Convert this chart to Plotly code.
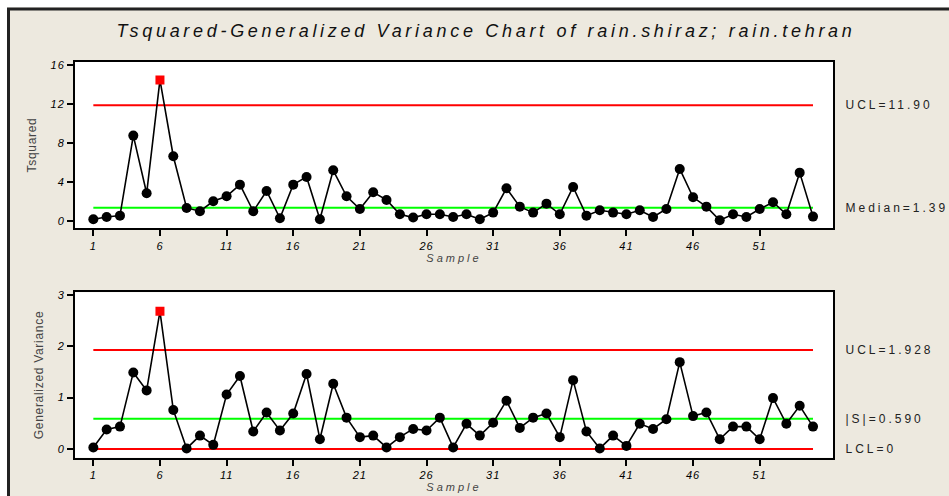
"""Tsquared / generalized variance control chart for rain.shiraz; rain.tehran."""

import plotly.graph_objects as go

W, H = 949, 496

samples = list(range(1, 56))
tsquared = [
    0.2, 0.44, 0.58, 8.79, 2.87, 14.5, 6.67, 1.37, 1.03, 2.05,
    2.56, 3.76, 1.03, 3.11, 0.31, 3.76, 4.55, 0.2, 5.23, 2.56,
    1.26, 2.97, 2.19, 0.72, 0.38, 0.72, 0.72, 0.44, 0.72, 0.2,
    0.89, 3.38, 1.5, 0.89, 1.81, 0.72, 3.52, 0.58, 1.13, 0.89,
    0.72, 1.13, 0.44, 1.26, 5.37, 2.46, 1.5, 0.1, 0.72, 0.44,
    1.26, 1.95, 0.72, 4.99, 0.48,
]
gen_variance = [
    0.03, 0.38, 0.435, 1.49, 1.14, 2.68, 0.76, 0.01, 0.26, 0.08,
    1.06, 1.42, 0.34, 0.71, 0.36, 0.69, 1.46, 0.19, 1.27, 0.61,
    0.23, 0.26, 0.03, 0.23, 0.39, 0.36, 0.61, 0.03, 0.49, 0.26,
    0.51, 0.94, 0.41, 0.61, 0.69, 0.23, 1.34, 0.34, 0.01, 0.26,
    0.06, 0.49, 0.39, 0.58, 1.69, 0.64, 0.71, 0.19, 0.435, 0.435,
    0.19, 0.99, 0.49, 0.84, 0.435,
]

t2_ucl, t2_median = 11.90, 1.39
gv_ucl, gv_center, gv_lcl = 1.928, 0.590, 0.0

t2_labels = ["UCL=11.90", "Median=1.39"]
gv_labels = ["UCL=1.928", "|S|=0.590", "LCL=0"]
x_ticks = list(range(1, 52, 5))

FONT = "Liberation Sans, Arial, sans-serif"
BG = "#EDE9DF"
LABEL_SPACING = 3  # px of letter spacing on the limit labels


def px_x(v):
    return v / W


def px_y(v):
    return 1 - v / H


def point_styles(values, limit):
    colors = ["#FF0000" if v > limit else "black" for v in values]
    symbols = ["square" if v > limit else "circle" for v in values]
    sizes = [9 if v > limit else 10 for v in values]
    return colors, symbols, sizes


fig = go.Figure()

panels = [
    ("x", "y", tsquared, t2_ucl, [(t2_ucl, "#FF0000"), (t2_median, "#00FF00")]),
    ("x2", "y2", gen_variance, gv_ucl,
     [(gv_ucl, "#FF0000"), (gv_center, "#00FF00"), (gv_lcl, "#FF0000")]),
]
for xa, ya, values, ucl, limits in panels:
    for level, color in limits:
        fig.add_trace(go.Scatter(
            x=[samples[0], samples[-1]], y=[level, level], mode="lines",
            line={"color": color, "width": 2}, xaxis=xa, yaxis=ya,
            hoverinfo="skip", showlegend=False,
        ))
    colors, symbols, sizes = point_styles(values, ucl)
    fig.add_trace(go.Scatter(
        x=samples, y=values, mode="lines+markers",
        line={"color": "black", "width": 1.6},
        marker={"color": colors, "symbol": symbols, "size": sizes,
                "opacity": 1, "line": {"width": 0}},
        xaxis=xa, yaxis=ya, showlegend=False,
    ))

axis_common = dict(
    showline=True, linecolor="black", linewidth=2, mirror=True,
    ticks="outside", ticklen=6, tickwidth=1.5, tickcolor="black",
    showgrid=False, zeroline=False, automargin=False,
    tickfont={"family": FONT, "size": 11, "color": "black", "style": "italic"},
)
x_dom = [px_x(75), px_x(833)]

fig.update_layout(
    width=W, height=H,
    margin={"l": 0, "r": 0, "t": 0, "b": 0},
    paper_bgcolor=BG, plot_bgcolor="white",
    template="none",
    title={
        "text": "Tsquared-Generalized Variance Chart of rain.shiraz; rain.tehran",
        "x": px_x(486), "xanchor": "center", "y": px_y(31), "yanchor": "middle",
        "font": {"family": FONT, "size": 18, "color": "#111", "style": "italic"},
    },
    xaxis=dict(axis_common, domain=x_dom, anchor="y", range=[-0.375, 56.5],
               tickvals=x_ticks,
               title={"text": "Sample", "standoff": 4,
                      "font": {"family": FONT, "size": 11, "style": "italic"}}),
    yaxis=dict(axis_common, domain=[px_y(228.3), px_y(61.7)], anchor="x",
               range=[-0.72, 16.37], tickvals=[0, 4, 8, 12, 16],
               title={"text": "Tsquared", "standoff": 13,
                      "font": {"family": FONT, "size": 12}}),
    xaxis2=dict(axis_common, domain=x_dom, anchor="y2", range=[-0.375, 56.5],
                tickvals=x_ticks,
                title={"text": "Sample", "standoff": 3,
                       "font": {"family": FONT, "size": 11, "style": "italic"}}),
    yaxis2=dict(axis_common, domain=[px_y(457.7), px_y(292.3)], anchor="x2",
                range=[-0.17, 3.05], tickvals=[0, 1, 2, 3],
                title={"text": "Generalized Variance", "standoff": 11,
                       "font": {"family": FONT, "size": 12}}),
)

for yref, levels, labels in [("y", [t2_ucl, t2_median], t2_labels),
                             ("y2", [gv_ucl, gv_center, gv_lcl], gv_labels)]:
    for level, label in zip(levels, labels):
        # annotations stay centred when letter spacing widens them, so nudge right
        fig.add_annotation(
            text=label, xref="paper", x=px_x(843), xanchor="left",
            xshift=len(label) * LABEL_SPACING / 2,
            yref=yref, y=level, yanchor="middle", showarrow=False,
            font={"family": FONT, "size": 12, "color": "#222"},
        )

# outer window edge: white strip plus dark frame line at top and left
fig.add_shape(type="rect", xref="paper", yref="paper", x0=-0.05, x1=px_x(7.5),
              y0=-0.1, y1=1.1, fillcolor="white", line={"width": 0}, layer="above")
fig.add_shape(type="rect", xref="paper", yref="paper", x0=-0.05, x1=1.1,
              y0=px_y(7.5), y1=1.1, fillcolor="white", line={"width": 0}, layer="above")
fig.add_shape(type="rect", xref="paper", yref="paper", x0=px_x(8.5), x1=1.2,
              y0=-0.2, y1=px_y(9), line={"color": "#222", "width": 3}, layer="above")

SPACING_JS = """
document.body.style.margin = '0';
document.body.style.overflow = 'hidden';
var sp = {
  '.gtitle': '3.7px',
  '.xtick text, .x2tick text, .ytick text, .y2tick text': '1px',
  '.xtitle, .x2title': '3px',
  '.ytitle, .y2title': '0.7px',
  '.annotation-text': '%dpx'
};
Object.keys(sp).forEach(function (sel) {
  document.querySelectorAll(sel).forEach(function (t) { t.style.letterSpacing = sp[sel]; });
});
""" % LABEL_SPACING

fig.write_html("out.html", post_script=SPACING_JS,
               config={"displayModeBar": False})
